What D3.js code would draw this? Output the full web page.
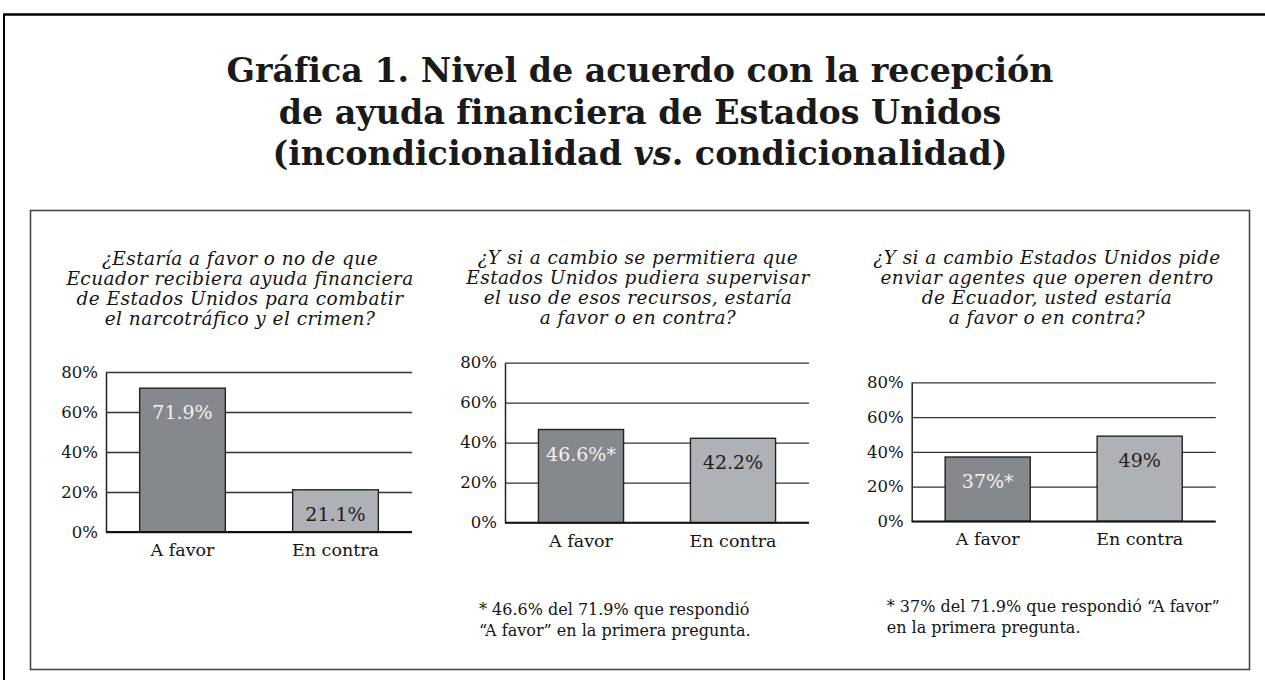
<!DOCTYPE html>
<html lang="es">
<head>
<meta charset="UTF-8">
<title>Gráfica 1. Nivel de acuerdo con la recepción de ayuda financiera</title>
<script src="https://cdn.jsdelivr.net/npm/d3@7"></script>
<style>
  body { margin: 0; background: #fff; }
  svg text, svg tspan { font-family: "DejaVu Serif", serif; }
</style>
</head>
<body>
<svg id="chart" width="1265" height="680"></svg>
<script>
// ---- data ----
const titleLines = [
  [{ t: "Gráfica 1. Nivel de acuerdo con la recepción" }],
  [{ t: "de ayuda financiera de Estados Unidos" }],
  [{ t: "(incondicionalidad " }, { t: "vs", italic: true }, { t: ". condicionalidad)" }]
];

const categories = ["A favor", "En contra"];
const yTicks = [0, 20, 40, 60, 80];

const q1Values = [71.9, 21.1];
const q2Values = [46.6, 42.2];
const q3Values = [37, 49];

const q1Labels = ["71.9%", "21.1%"];
const q2Labels = ["46.6%*", "42.2%"];
const q3Labels = ["37%*", "49%"];

const q1Text = ["¿Estaría a favor o no de que", "Ecuador recibiera ayuda financiera",
                "de Estados Unidos para combatir", "el narcotráfico y el crimen?"];
const q2Text = ["¿Y si a cambio se permitiera que", "Estados Unidos pudiera supervisar",
                "el uso de esos recursos, estaría", "a favor o en contra?"];
const q3Text = ["¿Y si a cambio Estados Unidos pide", "enviar agentes que operen dentro",
                "de Ecuador, usted estaría", "a favor o en contra?"];

const q2Note = ["* 46.6% del 71.9% que respondió", "“A favor” en la primera pregunta."];
const q3Note = ["* 37% del 71.9% que respondió “A favor”", "en la primera pregunta."];

// ---- layout ----
const barFill = ["#85888d", "#aeb1b5"];
const labelFill = ["#f2f2f2", "#1e1e1e"];

const panels = [
  { values: q1Values, labels: q1Labels, question: q1Text, note: null,
    qx: 240, qy: 265, left: 106, right: 412, top: 372, bottom: 532 },
  { values: q2Values, labels: q2Labels, question: q2Text, note: q2Note,
    qx: 638, qy: 264, left: 505, right: 809, top: 362.7, bottom: 522.7, nx: 479, ny: 615 },
  { values: q3Values, labels: q3Labels, question: q3Text, note: q3Note,
    qx: 1047, qy: 264, left: 911.7, right: 1215.7, top: 382.3, bottom: 521.3, nx: 886.7, ny: 612 }
];

const svg = d3.select("#chart");

// outer frame (top and left rule) and inner box
svg.append("line").attr("x1", 4).attr("x2", 1265).attr("y1", 14.5).attr("y2", 14.5)
  .attr("stroke", "#000").attr("stroke-width", 2.5);
svg.append("line").attr("x1", 4).attr("x2", 4).attr("y1", 13.5).attr("y2", 680)
  .attr("stroke", "#000").attr("stroke-width", 2);
svg.append("rect").attr("x", 30.5).attr("y", 210.5).attr("width", 1219).attr("height", 459)
  .attr("fill", "none").attr("stroke", "#4a4a4a").attr("stroke-width", 1.6);

// title
const title = svg.append("text")
  .attr("text-anchor", "middle")
  .attr("font-weight", "bold")
  .attr("font-size", 33.3)
  .attr("fill", "#1a1a1a");
titleLines.forEach((segs, i) => {
  segs.forEach((s, j) => {
    const ts = title.append("tspan").text(s.t);
    if (j === 0) ts.attr("x", 640).attr("y", 82 + i * 41.5);
    if (s.italic) ts.attr("font-style", "italic");
  });
});

panels.forEach(p => {
  const g = svg.append("g");
  const w = p.right - p.left;

  const x = d3.scaleBand().domain(categories).range([p.left, p.right])
    .paddingInner(0.44).paddingOuter(0.22);
  const y = d3.scaleLinear().domain([0, 80]).range([p.bottom, p.top]);

  // question
  g.append("text")
    .attr("text-anchor", "middle")
    .attr("font-style", "italic")
    .attr("font-size", 18.5)
    .attr("letter-spacing", 0.45)
    .attr("fill", "#141414")
    .selectAll("tspan").data(p.question).join("tspan")
    .attr("x", p.qx).attr("y", (d, i) => p.qy + i * 20)
    .text(d => d);

  // y axis with gridlines
  const ax = g.append("g")
    .attr("transform", `translate(${p.left},0)`)
    .call(d3.axisLeft(y).tickValues(yTicks).tickFormat(d => d + "%")
      .tickSizeInner(-w).tickSizeOuter(0).tickPadding(8));
  ax.select(".domain").attr("stroke", "#222").attr("stroke-width", 1.5);
  ax.selectAll(".tick line").attr("stroke", "#333").attr("stroke-width", 1.3);
  ax.selectAll(".tick text")
    .style("font-family", "'DejaVu Serif', serif")
    .attr("font-size", 16.5)
    .attr("fill", "#141414");

  // bars
  g.selectAll("rect.bar").data(p.values).join("rect")
    .attr("class", "bar")
    .attr("x", (d, i) => x(categories[i]))
    .attr("width", x.bandwidth())
    .attr("y", d => y(d))
    .attr("height", d => y(0) - y(d))
    .attr("fill", (d, i) => barFill[i])
    .attr("stroke", "#232323")
    .attr("stroke-width", 1.4);

  // baseline
  g.append("line")
    .attr("x1", p.left).attr("x2", p.right)
    .attr("y1", y(0)).attr("y2", y(0))
    .attr("stroke", "#111").attr("stroke-width", 1.8);

  // value labels
  g.selectAll("text.val").data(p.values).join("text")
    .attr("class", "val")
    .attr("text-anchor", "middle")
    .attr("x", (d, i) => x(categories[i]) + x.bandwidth() / 2)
    .attr("y", d => y(d) + 31)
    .attr("font-size", 19)
    .attr("fill", (d, i) => labelFill[i])
    .text((d, i) => p.labels[i]);

  // category labels
  g.selectAll("text.cat").data(categories).join("text")
    .attr("class", "cat")
    .attr("text-anchor", "middle")
    .attr("x", d => x(d) + x.bandwidth() / 2)
    .attr("y", p.bottom + 24)
    .attr("font-size", 17.5)
    .attr("fill", "#141414")
    .text(d => d);

  // footnote
  if (p.note) {
    g.append("text")
      .style("font-family", "'DejaVu Serif', serif")
      .attr("font-size", 16)
      .attr("fill", "#141414")
      .selectAll("tspan").data(p.note).join("tspan")
      .attr("x", p.nx).attr("y", (d, i) => p.ny + i * 20.5)
      .text(d => d);
  }
});
</script>
</body>
</html>
